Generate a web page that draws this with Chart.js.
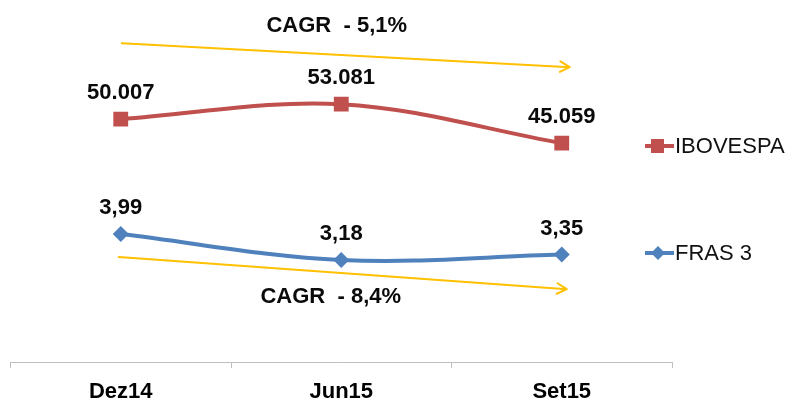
<!DOCTYPE html>
<html>
<head>
<meta charset="utf-8">
<script src="https://cdn.jsdelivr.net/npm/chart.js@4"></script>
<style>
  html, body { margin: 0; padding: 0; background: #fff; }
  #wrap { width: 787px; height: 401px; }
</style>
</head>
<body>
<div id="wrap"><canvas id="chart" width="787" height="401"></canvas></div>
<script>
// categories and series
const categories = ['Dez14', 'Jun15', 'Set15'];
const ibovespa = [50007, 53081, 45059];
const fras3 = [3.99, 3.18, 3.35];
const ibovLabels = ['50.007', '53.081', '45.059'];
const frasLabels = ['3,99', '3,18', '3,35'];
// CAGR trend arrows: start/end values on each series' own scale
const cagrIbov = [65600, 60700];
const cagrFras = [3.27, 2.27];
const cagrTexts = ['CAGR  - 5,1%', 'CAGR  - 8,4%'];

const RED = '#C0504D';
const BLUE = '#4F81BD';
const YELLOW = '#FFC000';

const labelsPlugin = {
    id: 'valueLabels',
    afterDatasetsDraw(chart) {
        const ctx = chart.ctx;
        ctx.save();
        ctx.font = 'bold 22px "Liberation Sans", Arial, sans-serif';
        ctx.fillStyle = '#0a0a0a';
        ctx.textAlign = 'center';
        ctx.textBaseline = 'middle';
        const sets = [ibovLabels, frasLabels];
        sets.forEach((txts, di) => {
            const meta = chart.getDatasetMeta(di);
            meta.data.forEach((pt, i) => {
                ctx.fillText(txts[i], pt.x, pt.y - 26);
            });
        });
        ctx.restore();
    }
};

// bold category labels under the axis
const tickLabelsPlugin = {
    id: 'catTicks',
    afterDraw(chart) {
        const ctx = chart.ctx;
        const x = chart.scales.x;
        ctx.save();
        ctx.font = 'bold 22px "Liberation Sans", Arial, sans-serif';
        ctx.fillStyle = '#000';
        ctx.textAlign = 'center';
        ctx.textBaseline = 'alphabetic';
        categories.forEach((c, i) => {
            ctx.fillText(c, x.getPixelForValue(i), x.bottom - 3);
        });
        ctx.restore();
    }
};

function arrow(ctx, x1, y1, x2, y2) {
    ctx.beginPath();
    ctx.moveTo(x1, y1);
    ctx.lineTo(x2, y2);
    const a = Math.atan2(y2 - y1, x2 - x1);
    const h = 11;
    ctx.moveTo(x2 - h * Math.cos(a - 0.5), y2 - h * Math.sin(a - 0.5));
    ctx.lineTo(x2, y2);
    ctx.lineTo(x2 - h * Math.cos(a + 0.5), y2 - h * Math.sin(a + 0.5));
    ctx.stroke();
}

const cagrPlugin = {
    id: 'cagr',
    afterDatasetsDraw(chart) {
        const ctx = chart.ctx;
        const x = chart.scales.x;
        const yI = chart.scales.yIbov;
        const yF = chart.scales.yFras;
        const xs = x.getPixelForValue(0);
        const xe = x.getPixelForValue(categories.length - 1);
        ctx.save();
        ctx.strokeStyle = YELLOW;
        ctx.lineWidth = 2;
        ctx.lineJoin = 'round';
        ctx.lineCap = 'round';

        const a1 = [xs + 1, yI.getPixelForValue(cagrIbov[0]), xe + 8, yI.getPixelForValue(cagrIbov[1])];
        const a2 = [xs - 2, yF.getPixelForValue(cagrFras[0]), xe + 5, yF.getPixelForValue(cagrFras[1])];
        arrow(ctx, ...a1);
        arrow(ctx, ...a2);

        ctx.font = 'bold 22px "Liberation Sans", Arial, sans-serif';
        ctx.fillStyle = '#0a0a0a';
        ctx.textAlign = 'center';
        ctx.textBaseline = 'middle';
        ctx.fillText(cagrTexts[0], (a1[0] + a1[2]) / 2 - 9, (a1[1] + a1[3]) / 2 - 29);
        ctx.fillText(cagrTexts[1], (a2[0] + a2[2]) / 2 - 12, (a2[1] + a2[3]) / 2 + 24);
        ctx.restore();
    }
};

const legendPlugin = {
    id: 'sideLegend',
    afterDraw(chart) {
        const ctx = chart.ctx;
        const items = [
            { text: 'IBOVESPA', color: RED, style: 'rect', y: 146 },
            { text: 'FRAS 3', color: BLUE, style: 'rectRot', y: 253 }
        ];
        ctx.save();
        items.forEach(it => {
            ctx.strokeStyle = it.color;
            ctx.lineWidth = 4;
            ctx.beginPath();
            ctx.moveTo(645, it.y);
            ctx.lineTo(674, it.y);
            ctx.stroke();
            ctx.fillStyle = it.color;
            if (it.style === 'rect') {
                ctx.fillRect(651, it.y - 7, 13, 14);
            } else {
                ctx.beginPath();
                ctx.moveTo(658, it.y - 7);
                ctx.lineTo(665, it.y);
                ctx.lineTo(658, it.y + 7);
                ctx.lineTo(651, it.y);
                ctx.closePath();
                ctx.fill();
            }
            ctx.fillStyle = '#111';
            ctx.font = '22px "Liberation Sans", Arial, sans-serif';
            ctx.textAlign = 'left';
            ctx.textBaseline = 'middle';
            ctx.fillText(it.text, 675, it.y + 1);
        });
        ctx.restore();
    }
};

new Chart(document.getElementById('chart'), {
    type: 'line',
    data: {
        labels: categories,
        datasets: [
            {
                label: 'IBOVESPA',
                data: ibovespa,
                yAxisID: 'yIbov',
                borderColor: RED,
                backgroundColor: RED,
                borderWidth: 4,
                pointStyle: 'rect',
                pointRadius: 10.5,
                pointBorderWidth: 0,
                tension: 0.35
            },
            {
                label: 'FRAS 3',
                data: fras3,
                yAxisID: 'yFras',
                borderColor: BLUE,
                backgroundColor: BLUE,
                borderWidth: 4,
                pointStyle: 'rectRot',
                pointRadius: 8,
                pointBorderWidth: 0,
                tension: 0.35
            }
        ]
    },
    options: {
        responsive: false,
        animation: false,
        layout: { padding: { left: 7, right: 115, top: 22, bottom: 0 } },
        plugins: {
            legend: { display: false },
            tooltip: { enabled: false }
        },
        scales: {
            x: {
                offset: true,
                grid: {
                    display: true,
                    offset: true,
                    drawOnChartArea: false,
                    drawTicks: true,
                    tickLength: 6,
                    color: '#BFBFBF',
                    lineWidth: 1
                },
                border: { display: true, color: '#BFBFBF', width: 1 },
                ticks: { display: false },
                afterFit(scale) { scale.height = 39; }
            },
            yIbov: {
                display: false,
                min: 0,
                max: 70000
            },
            yFras: {
                display: false,
                min: 0,
                max: 10.6
            }
        }
    },
    plugins: [cagrPlugin, labelsPlugin, tickLabelsPlugin, legendPlugin]
});
</script>
</body>
</html>
